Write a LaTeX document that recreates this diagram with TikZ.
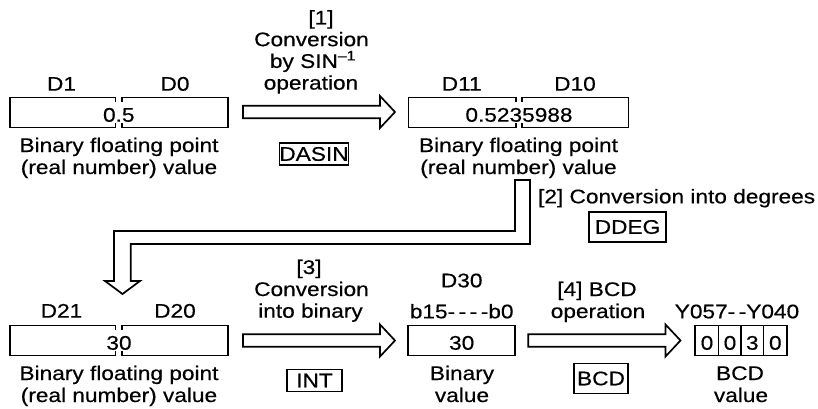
\documentclass[tikz,border=0pt]{standalone}
\usepackage{fontspec}
\setmainfont{Liberation Sans}[FakeStretch=1.15,FakeBold=0.45]
\newcommand\mysplitbox[6]{% left, gapL, gapR, right, top, bottom
  \draw (#2,#5+4.5) -- (#2,#5) -- (#1,#5) -- (#1,#6) -- (#2,#6) -- (#2,#6-4.5);
  \draw (#3,#5+4.5) -- (#3,#5) -- (#4,#5) -- (#4,#6) -- (#3,#6) -- (#3,#6-4.5);}
\newcommand\myharrow[3]{% x start, x tip, y centre
  \draw (#1,#3-6.3) -- (#2-15,#3-6.3) -- (#2-15,#3-16) -- (#2,#3) -- (#2-15,#3+16)
    -- (#2-15,#3+6.3) -- (#1,#3+6.3) -- cycle;}
\begin{document}
\begin{tikzpicture}[x=1pt,y=-1pt,line width=1.7pt,line join=miter,
  font=\fontsize{19.7}{21.7}\selectfont,
  txt/.style={anchor=base,inner sep=0pt},
  opbox/.style={draw,inner sep=0pt,anchor=center}]
\useasboundingbox (0,0) rectangle (818,409);

% ---------- top row ----------
\mysplitbox{10}{115.5}{122}{228}{97.5}{127.5}
\node[txt] (d1) at (61.5,90.7) {D1};
\node[txt] (d0) at (175,90.7) {D0};
\node[txt] (v1) at (118.8,121.7) {0.5};
\node[txt] (c1a) at (119,152) {Binary floating point};
\node[txt] (c1b) at (119,174) {(real number) value};

\myharrow{243}{395}{112}
\node[txt] (l1a) at (321,24.5) {[1]};
\node[txt] (l1b) at (311.5,46.2) {Conversion};
\node[txt] (l1c) at (313,67.9) {by SIN\textsuperscript{–1}};
\node[txt] (l1d) at (311,89.6) {operation};
\node[opbox,minimum width=68,minimum height=22] (dasin) at (314,154) {DASIN};

\mysplitbox{408.5}{516}{522}{628.5}{97.5}{127.5}
\node[txt] (d11) at (461.7,90.7) {D11};
\node[txt] (d10) at (575,90.7) {D10};
\node[txt] (v2) at (519,121.7) {0.5235988};
\node[txt] (c2a) at (518.5,152) {Binary floating point};
\node[txt] (c2b) at (518.5,174) {(real number) value};

% ---------- bent arrow ----------
\draw (515,180) -- (530,180) -- (530,244) -- (130.7,244) -- (130.7,281) -- (140,281)
  -- (122.5,294) -- (105,281) -- (114,281) -- (114,231) -- (515,231) -- cycle;
\node[txt,anchor=base east] (l2) at (816,203.3) {[2] Conversion into degrees};
\node[opbox,minimum width=77,minimum height=30] (ddeg) at (627.5,227) {DDEG};

% ---------- bottom row ----------
\mysplitbox{10}{115.5}{122}{228}{325.5}{355.5}
\node[txt] (d21) at (61.5,317.7) {D21};
\node[txt] (d20) at (175,317.7) {D20};
\node[txt] (v3) at (119,349.7) {30};
\node[txt] (c3a) at (119,380) {Binary floating point};
\node[txt] (c3b) at (119,402) {(real number) value};

\myharrow{243}{395}{340.5}
\node[txt] (l3a) at (309,274) {[3]};
\node[txt] (l3b) at (311.5,296) {Conversion};
\node[txt] (l3c) at (310.5,317.7) {into binary};
\node[opbox,minimum width=55,minimum height=22] (int) at (314.5,380.5) {INT};

\node[draw,minimum width=107,minimum height=30,inner sep=0pt] (d30box) at (461.7,340.5) {};
\node[txt] (v4) at (461.7,349.7) {30};
\node[txt] (d30) at (461.7,287.3) {D30};
\node[txt] (bits) at (461.7,318.3) {b15-\kern3.5pt-\kern3.5pt-\kern3.5pt-b0};
\node[txt] (c4a) at (462,380) {Binary};
\node[txt] (c4b) at (462,402) {value};

\myharrow{528.3}{680.5}{340.5}
\node[txt] (l4a) at (597,296) {[4] BCD};
\node[txt] (l4b) at (598,318) {operation};
\node[opbox,minimum width=54,minimum height=30] (bcdop) at (601,378.5) {BCD};

\draw (695,325.5) rectangle (787,355.5);
\draw (718.5,325.5) -- (718.5,355.5) (741,325.5) -- (741,355.5) (763.5,325.5) -- (763.5,355.5);
\node[txt] (b3) at (707,349.7) {0};
\node[txt] (b2) at (730,349.7) {0};
\node[txt] (b1) at (752.3,349.7) {3};
\node[txt] (b0) at (775.3,349.7) {0};
\node[txt] (ylab) at (737,318.3) {Y057-\kern3.5pt-Y040};
\node[txt] (c5a) at (740,380) {BCD};
\node[txt] (c5b) at (741,402) {value};
\end{tikzpicture}
\end{document}
